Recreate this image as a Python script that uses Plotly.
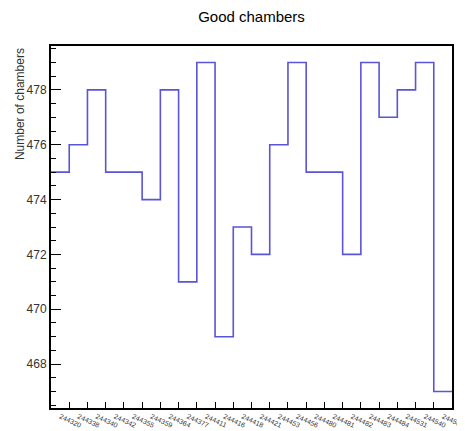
import plotly.graph_objects as go

runs = ["244320", "244338", "244340", "244342", "244355", "244359", "244364",
        "244377", "244411", "244416", "244418", "244421", "244453", "244456",
        "244480", "244481", "244482", "244483", "244484", "244531", "244540",
        "244561"]
good = [475, 476, 478, 475, 475, 474, 478, 471, 479, 469, 473, 472, 476, 479,
        475, 475, 472, 479, 477, 478, 479, 467]

n = len(good)
edges = list(range(n + 1))
centers = [i + 0.5 for i in range(n)]

OFF = 8  # page body margin compensation
W, H = 465, 431

fig = go.Figure()
fig.add_trace(go.Scatter(
    x=edges, y=good + [good[-1]], mode="lines", line_shape="hv",
    line=dict(color="#5954d8", width=1.6), showlegend=False, hoverinfo="skip"))

fig.update_layout(
    width=W, height=H,
    margin=dict(l=51 - OFF, r=W + OFF - 452, t=46 - OFF, b=H + OFF - 408,
                autoexpand=False),
    paper_bgcolor="white", plot_bgcolor="white",
    font=dict(family="Liberation Sans, Arial, sans-serif", color="black"),
    title=dict(text="Good chambers", x=0.5, xanchor="center", xref="paper",
               y=1 - (17 - OFF) / H, yref="container", yanchor="middle",
               font=dict(size=15), automargin=False),
)
fig.update_xaxes(
    range=[0, n], tickmode="array", tickvals=centers, ticktext=runs,
    tickangle=25, tickfont=dict(size=7, color="#333"), ticks="", ticklen=0,
    automargin=False, ticklabelstandoff=0,
    showgrid=False, zeroline=False, showline=True, linecolor="black", linewidth=2,
    mirror=True,
    minor=dict(tickmode="array", tickvals=edges[1:-1], ticks="inside", ticklen=6,
               tickcolor="black", tickwidth=1, showgrid=False),
)
fig.update_yaxes(
    range=[466.4, 479.6], tickmode="array", tickvals=[468, 470, 472, 474, 476, 478],
    ticks="inside", ticklen=10, tickwidth=1.3, tickcolor="black",
    tickfont=dict(size=12, color="#333"), automargin=False,
    showgrid=False, zeroline=False, showline=True, linecolor="black", linewidth=2,
    mirror=True,
    minor=dict(tick0=466, dtick=0.5, ticks="inside", ticklen=5, tickcolor="black",
               tickwidth=1, showgrid=False),
)
fig.add_annotation(
    text="Number of chambers", textangle=-90, xref="paper", yref="paper",
    x=-0.077, y=1.0, xanchor="center", yanchor="top", showarrow=False,
    font=dict(size=12, color="#333"))

fig.write_html("out.html")
